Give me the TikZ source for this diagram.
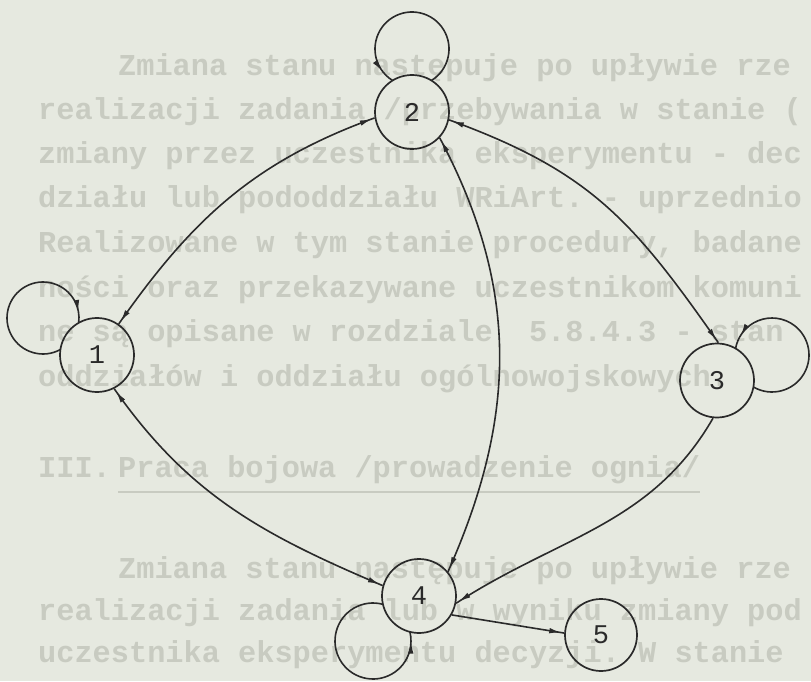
\documentclass[tikz,border=0pt]{standalone}
\usepackage{fontspec}
\setmonofont{Liberation Mono}
\usetikzlibrary{arrows.meta,decorations.markings}
\definecolor{paper}{HTML}{E6E9E0}
\definecolor{ghost}{HTML}{C8CBC1}
\definecolor{ink}{HTML}{2A2A2A}
\tikzset{
  state/.style={circle,draw=ink,line width=1.7pt,minimum size=74pt,inner sep=0pt,
    font=\fontsize{27}{27}\selectfont\ttfamily,text=ink},
  wire/.style={color=ink,line width=1.6pt},
  headfwd/.style={postaction={decorate},decoration={markings,
    mark=at position -3pt with {\arrow{Latex[length=12pt,width=5.5pt]}}}},
  headboth/.style={postaction={decorate},decoration={markings,
    mark=at position 3pt with {\arrowreversed{Latex[length=12pt,width=5.5pt]}},
    mark=at position -3pt with {\arrow{Latex[length=12pt,width=5.5pt]}}}},
  loophead/.style={postaction={decorate},decoration={markings,
    mark=at position -#1 with {\arrow{Latex[length=12pt,width=5.5pt]}}}},
  ghosttext/.style={anchor=base west,inner sep=0pt,text=ghost,
    font=\fontsize{30.3}{36}\selectfont\ttfamily\bfseries},
}
\begin{document}
\begin{tikzpicture}[x=1pt,y=1pt]
\fill[paper] (0,0) rectangle (811,681);
\useasboundingbox (0,0) rectangle (811,681);

% faint show-through text of the page
\node[ghosttext] (t1) at (118,605) {Zmiana stanu następuje po upływie rze};
\node[ghosttext] (t2) at (38,561) {realizacji zadania /przebywania w stanie (};
\node[ghosttext] (t3) at (38,517) {zmiany przez uczestnika eksperymentu - dec};
\node[ghosttext] (t4) at (38,473) {działu lub pododdziału WRiArt. - uprzednio};
\node[ghosttext] (t5) at (38,428) {Realizowane w tym stanie procedury, badane};
\node[ghosttext] (t6) at (38,383) {ności oraz przekazywane uczestnikom komuni};
\node[ghosttext] (t7) at (38,339) {ne są opisane w rozdziale\ \ 5.8.4.3 - stan};
\node[ghosttext] (t8) at (38,295) {oddziałów i oddziału ogólnowojskowych.};
\node[ghosttext] (t9) at (38,204) {III.};
\node[ghosttext] (t9b) at (118,204) {Praca bojowa /prowadzenie ognia/};
\draw[ghost,line width=1.8pt] (t9b.base west) ++(0,-15) -- ([yshift=-15pt]t9b.base east);
\node[ghosttext] (t10) at (118,103) {Zmiana stanu następuje po upływie rze};
\node[ghosttext] (t11) at (38,61) {realizacji zadania lub w wyniku zmiany pod};
\node[ghosttext] (t12) at (38,19) {uczestnika eksperymentu decyzji. W stanie};

% states
\node[state] (n1) at (97,326) {1};
\node[state] (n2) at (412,569) {2};
\node[state] (n3) at (717,300.5) {3};
\node[state] (n4) at (419,85) {4};
\node[state,minimum size=72pt] (n5) at (601,46) {5};

% self-loop centres
\coordinate (c1) at (43,363);
\coordinate (c2) at (412,632);
\coordinate (c3) at (772,326);
\coordinate (c4) at (373,40);

% self-loops
\draw[wire,loophead=11pt] ([shift={(299:36)}]c1) arc[start angle=299,end angle=-7.8,radius=36];
\draw[wire,loophead=14pt] ([shift={(-58.4:37)}]c2) arc[start angle=-58.4,end angle=238.4,radius=37];
\draw[wire,loophead=14pt] ([shift={(-120.1:37)}]c3) arc[start angle=-120.1,end angle=169.9,radius=37];
\draw[wire,loophead=10pt] ([shift={(74.7:38)}]c4) arc[start angle=74.7,end angle=374.1,radius=38];

% transitions
\draw[wire,headboth] (n1.55) to[out=55,in=200] (n2.189);
\draw[wire,headboth] (n2.-12) to[out=-20,in=125,looseness=1.1] (n3.88);
\draw[wire,headboth] (n2.-43) to[out=-62,in=66] (n4.40);
\draw[wire,headboth] (n1.-63) to[out=-55,in=157] (n4.164);
\draw[wire,headfwd] (n3.-96) to[out=240,in=33] (n4.-11);
\draw[wire,headfwd] (n4.-30) -- (n5.177);
\end{tikzpicture}
\end{document}
